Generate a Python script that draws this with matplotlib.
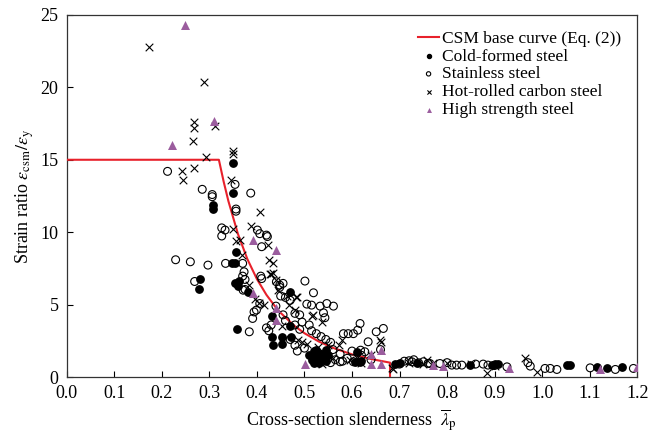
import matplotlib
matplotlib.use("Agg")
import matplotlib.pyplot as plt

plt.rcParams['font.family'] = ['Liberation Serif', 'DejaVu Serif']
plt.rcParams['mathtext.fontset'] = 'stix'

# CSM base curve
curve_x = [0.0, 0.32, 0.33, 0.34, 0.36, 0.38, 0.40, 0.42, 0.44, 0.45, 0.48, 0.50, 0.53, 0.56, 0.60, 0.64, 0.68, 0.68]
curve_y = [15.0, 15.0, 13.5, 12.15, 9.89, 8.14, 6.77, 5.68, 4.80, 4.43, 3.51, 3.03, 2.46, 2.02, 1.57, 1.25, 1.0, 0.0]

cold_x = [0.35, 0.349, 0.308, 0.308, 0.28, 0.279, 0.357, 0.347, 0.354, 0.354, 0.363, 0.360, 0.382, 0.359,
          0.469, 0.432, 0.432, 0.434, 0.452, 0.452, 0.469, 0.472, 0.51, 0.515, 0.52, 0.525, 0.53, 0.535,
          0.54, 0.545, 0.52, 0.525, 0.53, 0.545, 0.55, 0.61, 0.606, 0.617, 0.69, 0.736, 0.848, 0.894,
          0.90, 0.908, 1.052, 1.059, 1.115, 1.136, 1.168, 0.70, 0.62]
cold_y = [14.8, 12.7, 11.9, 11.6, 6.8, 6.1, 8.65, 7.9, 7.9, 6.5, 6.6, 6.3, 5.9, 3.3,
          5.9, 4.2, 2.8, 2.2, 2.8, 2.3, 3.5, 2.8, 1.5, 1.2, 1.8, 1.4, 1.0, 1.6,
          1.3, 1.9, 1.0, 1.9, 1.5, 1.1, 1.5, 1.75, 1.06, 1.06, 0.94, 0.99, 0.87, 0.83,
          0.9, 0.9, 0.83, 0.83, 0.67, 0.64, 0.72, 1.0, 1.1]

stain_x = [0.212, 0.285, 0.306, 0.306, 0.354, 0.387, 0.356, 0.356, 0.326, 0.333, 0.326, 0.401, 0.406,
           0.42, 0.422, 0.41, 0.229, 0.26, 0.297, 0.269, 0.334, 0.37, 0.373, 0.37, 0.375, 0.408, 0.41,
           0.375, 0.406, 0.399, 0.391, 0.384, 0.441, 0.448, 0.455, 0.448, 0.501, 0.519, 0.505, 0.515,
           0.533, 0.547, 0.561, 0.54, 0.543, 0.49, 0.495, 0.51, 0.515, 0.525, 0.535, 0.49, 0.48, 0.42,
           0.425, 0.43, 0.46, 0.455, 0.47, 0.48, 0.485, 0.46, 0.47, 0.45, 0.44, 0.582, 0.592, 0.603,
           0.617, 0.612, 0.651, 0.666, 0.634, 0.618, 0.627, 0.575, 0.603, 0.555, 0.565, 0.58, 0.59,
           0.50, 0.545, 0.555, 0.56, 0.575, 0.60, 0.62, 0.64, 0.66, 0.72, 0.726, 0.74, 0.75, 0.764,
           0.785, 0.81, 0.82, 0.831, 0.876, 0.886, 0.926, 0.975, 1.006, 1.017, 1.031, 1.101, 1.154,
           1.192, 0.70, 0.71, 0.73, 0.86, 0.90, 0.97, 0.80, 0.76, 0.48, 0.394, 0.371]
stain_y = [14.2, 12.96, 12.6, 12.45, 13.3, 12.7, 11.6, 11.45, 10.3, 10.15, 9.74, 10.15, 9.9,
           9.8, 9.7, 9.0, 8.1, 7.96, 7.73, 6.6, 7.85, 7.85, 7.27, 6.97, 6.74, 6.97, 6.8,
           6.05, 5.08, 4.63, 4.05, 3.13, 6.58, 6.35, 6.47, 6.2, 6.63, 5.82, 5.04, 4.97,
           4.9, 5.08, 4.9, 4.44, 4.1, 4.3, 3.8, 3.6, 3.2, 3.0, 2.8, 3.3, 3.6, 3.4,
           3.2, 3.6, 3.9, 4.3, 2.6, 2.2, 1.8, 5.5, 5.3, 5.6, 4.9, 3.0, 3.0, 3.0,
           3.7, 3.24, 3.13, 3.36, 2.44, 1.86, 1.75, 1.06, 1.06, 1.0, 1.2, 1.1, 1.3,
           2.0, 2.6, 2.4, 1.9, 1.6, 1.8, 1.5, 1.2, 1.9, 1.13, 1.06, 0.99, 1.06, 0.94,
           0.94, 0.83, 0.83, 0.83, 0.9, 0.83, 0.71, 0.76, 0.6, 0.6, 0.53, 0.64, 0.53,
           0.6, 0.9, 1.1, 1.2, 0.9, 0.8, 1.0, 1.0, 0.95, 4.4, 4.5, 6.0]

hot_x = [0.173, 0.288, 0.267, 0.267, 0.312, 0.265, 0.292, 0.349, 0.35, 0.243, 0.245, 0.267, 0.345,
         0.406, 0.349, 0.355, 0.364, 0.388, 0.424, 0.426, 0.433, 0.368, 0.429, 0.384, 0.405, 0.395,
         0.415, 0.445, 0.485, 0.467, 0.519, 0.536, 0.487, 0.505, 0.55, 0.573, 0.561, 0.533, 0.452,
         0.58, 0.434, 0.427, 0.44, 0.464, 0.483, 0.48, 0.515, 0.529, 0.494, 0.536, 0.596,
         0.61, 0.62, 0.64, 0.72, 0.75, 0.80, 0.85, 0.885, 0.963, 0.989, 0.687, 0.758, 0.659,
         0.662, 0.684, 0.771, 0.90]
hot_y = [22.8, 20.4, 17.6, 17.2, 17.3, 16.3, 15.2, 15.4, 15.6, 14.2, 13.6, 14.4, 13.6,
         11.4, 10.2, 9.4, 9.46, 10.4, 9.1, 8.1, 7.9, 8.4, 7.1, 6.35, 5.1, 5.4,
         5.0, 6.0, 5.5, 5.0, 4.3, 3.8, 2.55, 2.3, 2.2, 2.2, 1.3, 1.06, 3.5,
         2.55, 7.2, 7.1, 6.7, 5.6, 5.5, 4.6, 4.2, 2.1, 2.45, 0.94, 1.17,
         1.3, 1.0, 1.5, 1.0, 0.9, 0.95, 0.9, 0.3, 1.33, 0.37, 0.53, 1.17, 2.55,
         2.44, 0.6, 0.95, 0.8]

hss_x = [0.248, 0.309, 0.221, 0.391, 0.441, 0.391, 0.441, 0.441, 0.501, 0.641, 0.662, 0.641, 0.662,
         0.771, 0.791, 0.931, 1.121, 1.199]
hss_y = [24.3, 17.7, 16.0, 9.46, 8.77, 5.78, 4.74, 3.94, 0.94, 1.63, 1.86, 0.94, 0.9,
         0.83, 0.76, 0.6, 0.53, 0.67]

x_ticks = [0.0, 0.1, 0.2, 0.3, 0.4, 0.5, 0.6, 0.7, 0.8, 0.9, 1.0, 1.1, 1.2]
y_ticks = [0, 5, 10, 15, 20, 25]

fig = plt.figure(figsize=(6.61, 4.37), dpi=100)
ax = fig.add_axes([0.101, 0.137, 0.863, 0.829])

ax.plot(curve_x, curve_y, color='#e8212b', lw=1.5, label='CSM base curve (Eq. (2))', zorder=3)
ax.scatter(cold_x, cold_y, s=28, c='black', marker='o', label='Cold-formed steel', zorder=4)
ax.scatter(stain_x, stain_y, s=32, facecolors='none', edgecolors='black', linewidths=0.8,
           marker='o', label='Stainless steel', zorder=4)
ax.scatter(hot_x, hot_y, s=30, c='black', marker='x', linewidths=0.8,
           label='Hot-rolled carbon steel', zorder=4)
ax.scatter(hss_x, hss_y, s=42, c='#9b5d9e', marker='^', linewidths=0,
           label='High strength steel', zorder=5)

ax.set_xlim(0, 1.2)
ax.set_ylim(0, 25)
ax.set_xticks(x_ticks)
ax.set_xticklabels([f'{t:.1f}' for t in x_ticks])
ax.set_yticks(y_ticks)
ax.tick_params(direction='in', labelsize=13, length=4, width=0.8, top=False, right=False)
ax.tick_params(axis='x', pad=6)
ax.tick_params(axis='y', pad=6)
for sp in ax.spines.values():
    sp.set_linewidth(0.9)
    sp.set_color('#333333')

ax.set_xlabel(r'Cross-section slenderness  $\overline{\lambda}_{\rm p}$', fontsize=13, labelpad=4)
ax.set_ylabel(r'Strain ratio $\varepsilon_{\rm csm}/\varepsilon_{\rm y}$', fontsize=13, labelpad=3)

leg = ax.legend(loc='upper right', fontsize=12.5, frameon=False, markerscale=0.55,
                handlelength=1.2, handletextpad=0.2, labelspacing=0.1,
                borderaxespad=0.5)

fig.savefig('out.png', dpi=100)
